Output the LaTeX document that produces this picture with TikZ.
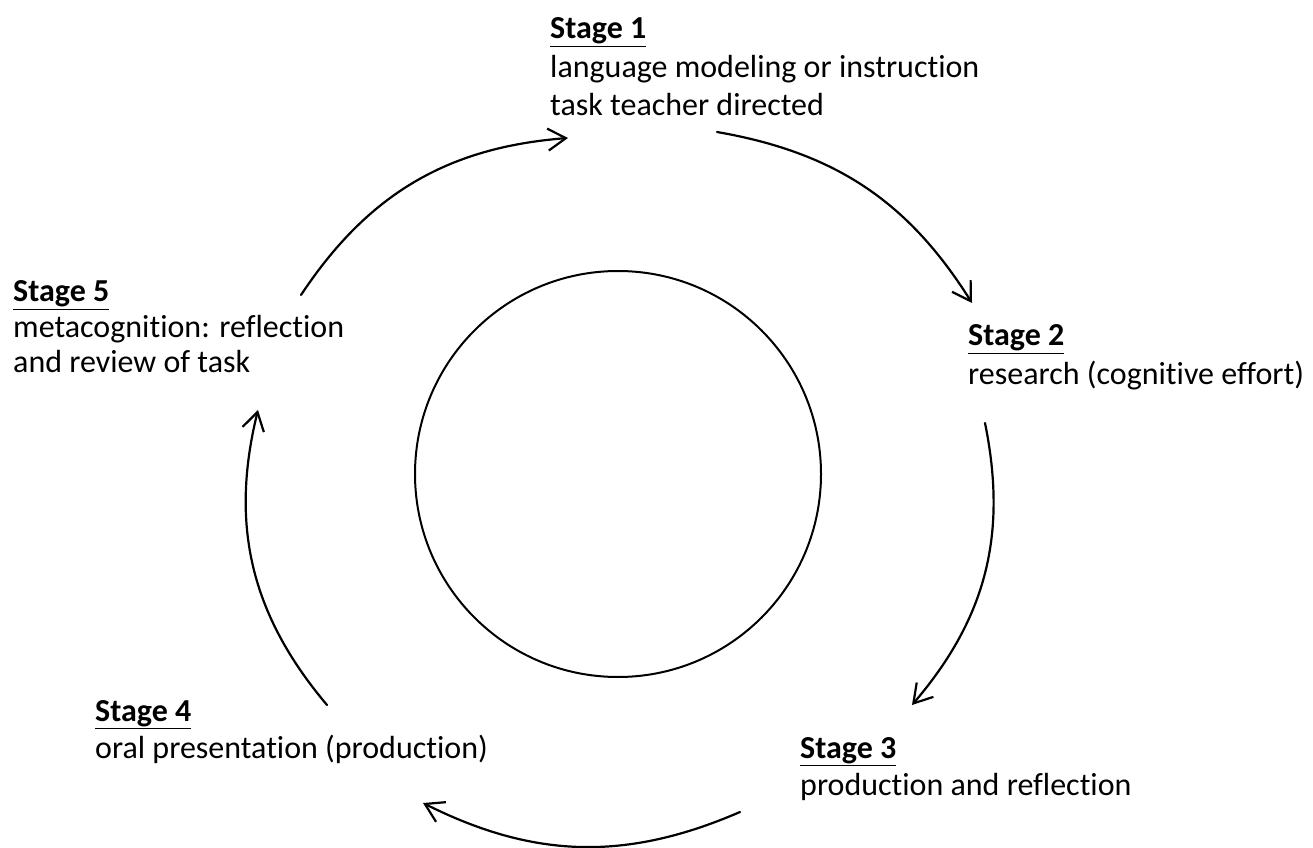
\documentclass[tikz,border=0pt]{standalone}
\usepackage{fontspec}
\setmainfont{Carlito}[Ligatures={NoCommon,NoContextual}]
\usetikzlibrary{arrows.meta}
\begin{document}
\begin{tikzpicture}[x=1pt,y=1pt,
  lbl/.style={anchor=base west, inner sep=0pt, font=\fontsize{32}{38}\selectfont},
  hd/.style={anchor=base west, inner sep=0pt, font=\fontsize{32}{38}\selectfont\bfseries},
  cyc/.style={line width=2.2pt, line cap=round,
    -{Straight Barb[length=18pt,width=22pt,line width=2.2pt]}},
]
\useasboundingbox (0,0) rectangle (1313,847);

% central circle
\node[draw, circle, line width=2pt, minimum size=406pt, inner sep=0pt] (hub) at (618,373) {};

% stage labels
\node[hd]  (s1)  at (550,808) {\underline{Stage 1}};
\node[lbl] (s1a) at (550,769) {language modeling or instruction};
\node[lbl] (s1b) at (550,731) {task teacher directed};

\node[hd]  (s2)  at (968,501) {\underline{Stage 2}};
\node[lbl] (s2a) at (968,462) {research (cognitive effort)};

\node[hd]  (s3)  at (800,89) {\underline{Stage 3}};
\node[lbl] (s3a) at (800,52) {production and reflection};

\node[hd]  (s4)  at (95,126) {\underline{Stage 4}};
\node[lbl] (s4a) at (95,89)  {oral presentation (production)};

\node[hd]  (s5)  at (13,545) {\underline{Stage 5}};
\node[lbl] (s5a) at (13,509) {metacognition: reflection};
\node[lbl] (s5b) at (13,475) {and review of task};

% arc end points
\coordinate (a1s) at (301,552);
\coordinate (a1e) at (568,709);
\coordinate (a2s) at (717,715);
\coordinate (a2e) at (972,544);
\coordinate (a3s) at (985,424);
\coordinate (a3e) at (912,142);
\coordinate (a4s) at (740,35);
\coordinate (a4e) at (423,44);
\coordinate (a5s) at (327,142);
\coordinate (a5e) at (258,437);

% cycle arrows
\draw[cyc] (a1s) to[bend left=26] (a1e);
\draw[cyc] (a2s) to[bend left=24] (a2e);
\draw[cyc] (a3s) to[bend left=26] (a3e);
\draw[cyc] (a4s) to[bend left=25] (a4e);
\draw[cyc] (a5s) to[bend left=27] (a5e);
\end{tikzpicture}
\end{document}
